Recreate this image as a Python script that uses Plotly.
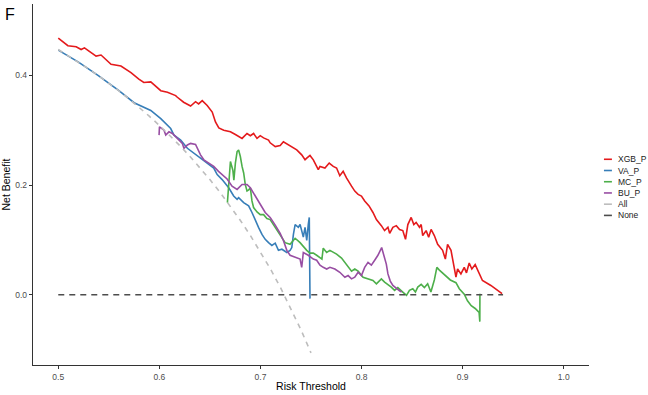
import plotly.graph_objects as go

# ---------------- data ----------------
xgb_x = [0.500,0.5046,0.5095,0.5177,0.5226,0.5259,0.5308,0.5374,0.5423,0.5472,0.5522,0.5620,0.5719,0.5797,0.5846,0.5915,
         0.6014,0.6080,0.6161,0.6178,0.6240,0.6309,0.6358,0.6388,0.6424,0.6473,0.6523,0.6555,0.6588,0.6637,0.6703,0.6752,
         0.6818,0.6867,0.6900,0.6932,0.6966,0.6998,0.7031,0.7080,0.7096,0.7146,0.7195,0.7227,0.7293,0.7359,0.7408,0.7441,
         0.7458,0.7490,0.7523,0.7572,0.7589,0.7638,0.7680,0.7720,0.7753,0.7785,0.7818,0.7851,0.7901,0.7933,0.7966,0.7999,
         0.8031,0.8074,0.8113,0.8147,0.8196,0.8228,0.8261,0.8278,0.8310,0.8344,0.8376,0.8408,0.8435,0.8458,0.8491,0.8517,
         0.8540,0.8573,0.8590,0.8605,0.8639,0.8664,0.8688,0.8720,0.8753,0.8802,0.8829,0.8851,0.8885,0.8917,0.8934,0.8950,
         0.8983,0.9016,0.9038,0.9065,0.9091,0.9124,0.9147,0.9196,0.9279,0.9377,0.9390]
xgb_y = [0.468,0.462,0.454,0.452,0.447,0.450,0.444,0.435,0.437,0.429,0.420,0.417,0.405,0.393,0.387,0.388,
         0.372,0.369,0.363,0.360,0.351,0.344,0.352,0.348,0.354,0.345,0.333,0.315,0.304,0.300,0.297,0.292,
         0.285,0.294,0.290,0.294,0.285,0.290,0.286,0.282,0.277,0.270,0.272,0.279,0.272,0.264,0.255,0.246,
         0.249,0.254,0.246,0.228,0.234,0.231,0.240,0.234,0.231,0.217,0.225,0.213,0.198,0.189,0.183,0.180,
         0.171,0.162,0.150,0.137,0.126,0.117,0.123,0.112,0.123,0.126,0.119,0.117,0.101,0.128,0.141,0.128,
         0.132,0.123,0.128,0.108,0.117,0.105,0.119,0.108,0.092,0.081,0.065,0.092,0.081,0.045,0.032,0.047,
         0.038,0.050,0.040,0.058,0.047,0.055,0.045,0.026,0.017,0.004,0.002]

va_x = [0.500,0.520,0.540,0.560,0.575,0.5915,0.6014,0.6063,0.6112,0.6145,0.6211,0.6277,0.6342,0.6407,0.6473,0.6538,
        0.6572,0.6621,0.6686,0.6735,0.6769,0.6784,0.6834,0.6883,0.6916,0.6949,0.6981,0.7015,0.7047,0.7080,0.7113,0.7146,
        0.7178,0.7212,0.7261,0.7293,0.7310,0.7326,0.7343,0.7375,0.7392,0.7408,0.7424,0.7441,0.7458,0.7473,0.7483,0.7490]
va_y = [0.446,0.424,0.399,0.372,0.350,0.336,0.321,0.312,0.303,0.291,0.282,0.267,0.258,0.249,0.240,0.231,
        0.219,0.210,0.195,0.180,0.174,0.177,0.168,0.162,0.150,0.135,0.123,0.110,0.101,0.095,0.090,0.094,
        0.081,0.083,0.077,0.081,0.086,0.110,0.128,0.123,0.128,0.117,0.105,0.123,0.099,0.128,0.141,-0.007]

mc_x = [0.6673,0.6703,0.6727,0.6737,0.6752,0.6769,0.6784,0.6801,0.6818,0.6834,0.6850,0.6867,0.6883,0.6900,0.6916,0.6932,
        0.6966,0.6998,0.7031,0.7064,0.7096,0.7146,0.7195,0.7244,0.7293,0.7343,0.7392,0.7424,0.7458,0.7490,0.7523,0.7556,
        0.7589,0.7608,0.7621,0.7655,0.7687,0.7753,0.7802,0.7851,0.7901,0.7933,0.7966,0.8015,0.8081,0.8113,0.8147,0.8196,
        0.8228,0.8261,0.8294,0.8327,0.8359,0.8408,0.8445,0.8474,0.8507,0.8533,0.8556,0.8590,0.8622,0.8654,0.8686,0.8720,
        0.8745,0.8770,0.8819,0.8878,0.8934,0.8967,0.9016,0.9048,0.9085,0.9124,0.9163,0.9170,0.9171]
mc_y = [0.168,0.243,0.227,0.209,0.240,0.261,0.264,0.252,0.234,0.222,0.201,0.189,0.191,0.195,0.171,0.159,
        0.151,0.146,0.146,0.139,0.137,0.123,0.109,0.095,0.092,0.103,0.095,0.088,0.081,0.076,0.076,0.072,
        0.067,0.065,0.085,0.077,0.081,0.074,0.067,0.054,0.043,0.047,0.043,0.032,0.027,0.026,0.020,0.029,
        0.023,0.019,0.014,0.008,0.013,0.005,-0.001,0.008,0.011,0.005,0.014,0.019,0.013,0.020,0.005,0.027,
        0.050,0.045,0.036,0.027,0.022,0.011,0.001,-0.011,-0.020,-0.025,-0.032,-0.049,0.002]

bu_x = [0.5997,0.6001,0.6046,0.6063,0.6095,0.6129,0.6178,0.6227,0.6243,0.6277,0.6309,0.6358,0.6407,0.6440,0.6489,0.6538,
        0.6585,0.6624,0.6670,0.6719,0.6769,0.6818,0.6867,0.6900,0.6949,0.6998,0.7047,0.7096,0.7146,0.7195,0.7227,0.7261,
        0.7293,0.7343,0.7392,0.7408,0.7424,0.7473,0.7523,0.7556,0.7589,0.7621,0.7655,0.7687,0.7736,0.7785,0.7835,0.7867,
        0.7901,0.7933,0.7966,0.7999,0.8031,0.8064,0.8097,0.8130,0.8162,0.8199,0.8218,0.8245,0.8261,0.8284,0.8310,0.8344,
        0.8376,0.8396]
bu_y = [0.291,0.306,0.300,0.291,0.297,0.294,0.285,0.276,0.267,0.273,0.276,0.274,0.255,0.246,0.240,0.234,
        0.225,0.218,0.211,0.198,0.192,0.201,0.201,0.195,0.181,0.165,0.150,0.141,0.127,0.112,0.099,0.081,
        0.072,0.068,0.065,0.050,0.077,0.072,0.065,0.063,0.054,0.050,0.047,0.050,0.047,0.041,0.032,0.035,
        0.029,0.032,0.041,0.035,0.050,0.059,0.054,0.063,0.072,0.086,0.074,0.056,0.038,0.025,0.017,0.011,
        0.007,0.005]

all_x = [0.50,0.51,0.52,0.53,0.54,0.55,0.56,0.57,0.58,0.59,0.60,0.61,0.62,0.63,0.64,0.65,0.66,0.67,0.68,0.69,
         0.70,0.71,0.72,0.73,0.74,0.75]
all_y = [0.4470,0.4357,0.4240,0.4117,0.3989,0.3856,0.3716,0.3570,0.3417,0.3256,0.3088,0.2910,0.2724,0.2527,
         0.2319,0.2100,0.1868,0.1621,0.1359,0.1081,0.0783,0.0466,0.0125,-0.0241,-0.0635,-0.1060]

none_x = [0.50, 0.94]
none_y = [0.0, 0.0]

series_names = ["XGB_P", "VA_P", "MC_P", "BU_P", "All", "None"]
series_colors = ["#E41A1C", "#377EB8", "#4DAF4A", "#984EA3", "#BDBDBD", "#4D4D4D"]

x_ticks = [0.5, 0.6, 0.7, 0.8, 0.9, 1.0]
x_tick_labels = ["0.5", "0.6", "0.7", "0.8", "0.9", "1.0"]
y_ticks = [0.0, 0.2, 0.4]
y_tick_labels = ["0.0", "0.2", "0.4"]

# ---------------- figure ----------------
series_data = [(xgb_x, xgb_y), (va_x, va_y), (mc_x, mc_y), (bu_x, bu_y), (all_x, all_y), (none_x, none_y)]
dashes = ["solid", "solid", "solid", "solid", "5px,5px", "6px,5px"]
widths = [1.6, 1.6, 1.6, 1.6, 1.6, 1.4]

fig = go.Figure()
for (xs, ys), name, col, dsh, w in zip(series_data, series_names, series_colors, dashes, widths):
    n = min(len(xs), len(ys))
    fig.add_trace(go.Scatter(x=xs[:n], y=ys[:n], mode="lines", name=name,
                             line=dict(color=col, width=w, dash=dsh), showlegend=False,
                             hoverinfo="skip"))

FONT = "Liberation Sans, Arial, Helvetica, sans-serif"
L, R, T, B = 31, 59, 4, 26
W, H = 648, 395
pw, ph = W - L - R, H - T - B

def px_to_paper_x(px):
    return (px - L) / pw

def px_to_paper_y(py):
    return (H - B - py) / ph

# manual legend (compact spacing like the reference)
shapes = []
annotations = []
for i, (name, col) in enumerate(zip(series_names, series_colors)):
    yy = px_to_paper_y(161 + 11.35 * i)
    shapes.append(dict(type="line", xref="paper", yref="paper",
                       x0=px_to_paper_x(604), x1=px_to_paper_x(612), y0=yy, y1=yy,
                       line=dict(color=col, width=1.6)))
    annotations.append(dict(xref="paper", yref="paper", x=px_to_paper_x(616), y=yy,
                            text=name, showarrow=False, xanchor="left", yanchor="middle",
                            font=dict(size=8.5, color="#1A1A1A", family=FONT)))

annotations.append(dict(xref="paper", yref="paper", x=px_to_paper_x(1), y=px_to_paper_y(14.5),
                        text="F", showarrow=False, xanchor="left", yanchor="middle",
                        font=dict(size=16, color="black", family=FONT)))

fig.update_layout(
    width=W, height=H,
    margin=dict(l=L, r=R, t=T, b=B),
    plot_bgcolor="white", paper_bgcolor="white",
    showlegend=False,
    hovermode=False,
    font=dict(family=FONT),
    shapes=shapes,
    annotations=annotations,
    xaxis=dict(range=[0.475, 1.025], tickvals=x_ticks, ticktext=x_tick_labels,
               showline=True, linecolor="#333333", linewidth=1.3, mirror=False,
               ticks="outside", ticklen=3, tickcolor="#333333", tickwidth=1,
               tickfont=dict(size=8.5, color="#4D4D4D", family=FONT),
               showgrid=False, zeroline=False,
               title=dict(text="Risk Threshold", font=dict(size=10.5, color="black", family=FONT), standoff=2)),
    yaxis=dict(range=[-0.128, 0.530], tickvals=y_ticks, ticktext=y_tick_labels,
               showline=True, linecolor="#333333", linewidth=1.3,
               ticks="outside", ticklen=3, tickcolor="#333333", tickwidth=1,
               tickfont=dict(size=8.5, color="#4D4D4D", family=FONT),
               showgrid=False, zeroline=False,
               title=dict(text="Net Benefit", font=dict(size=10.5, color="black", family=FONT), standoff=4)),
)

fig.write_html("out.html",
               config={"displayModeBar": False, "staticPlot": True},
               post_script="document.body.style.margin='0px';document.body.style.overflow='hidden';")
